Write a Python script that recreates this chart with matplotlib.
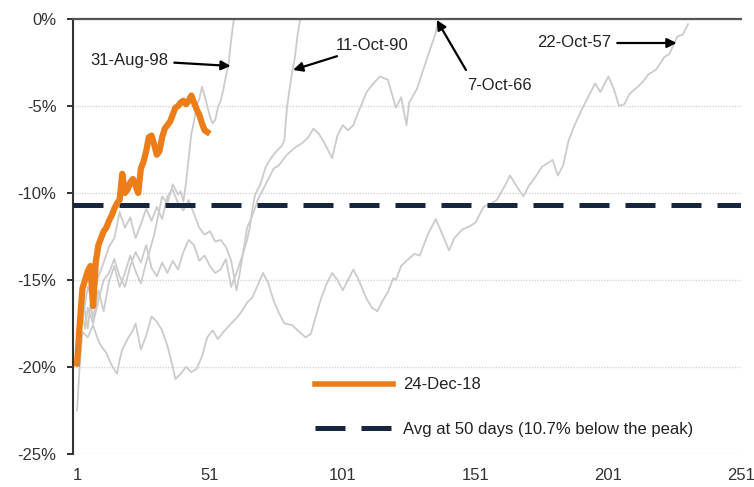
import matplotlib.pyplot as plt
from matplotlib.lines import Line2D

plt.rcParams['font.family'] = ['Liberation Sans', 'DejaVu Sans']
plt.rcParams['axes.unicode_minus'] = False

# trading days after the trough vs. distance below the prior peak (%)
days_2018 = list(range(1, 51))
dd_2018 = [-19.8, -17.5, -15.5, -15.0, -14.5, -14.2, -16.5, -14.0, -13.0, -12.6,
           -12.2, -12.0, -11.6, -11.3, -10.9, -10.6, -10.4, -8.9, -10.0, -9.8,
           -9.4, -9.2, -9.6, -10.0, -8.6, -8.2, -7.6, -6.8, -6.7, -7.2,
           -7.8, -7.6, -6.8, -6.3, -6.1, -5.9, -5.5, -5.1, -5.0, -4.8,
           -4.7, -4.9, -4.7, -4.4, -4.8, -5.2, -5.5, -6.0, -6.4, -6.5]

days_1998 = [1, 2, 3, 4, 5, 6, 7, 9, 11, 13, 15, 17, 19, 21, 23, 25, 27, 28, 30, 31,
             33, 35, 37, 38, 39, 40, 41, 42, 43, 44, 45, 46, 47, 48, 49, 50, 51, 52, 53, 54,
             55, 56, 57, 58, 59, 60]
dd_1998 = [-19.3, -17.2, -15.8, -16.9, -17.8, -16.4, -17.2, -15.6, -16.8, -15.1,
           -14.2, -15.4, -14.6, -13.6, -14.5, -15.2, -14.0, -13.5, -12.4, -11.7,
           -10.2, -10.6, -9.5, -9.8, -10.1, -9.9, -10.5, -9.4, -8.0, -6.6,
           -5.9, -5.0, -4.6, -3.9, -4.4, -5.0, -5.6, -6.0, -5.8, -5.1,
           -4.7, -4.1, -3.3, -2.6, -1.2, 0.0]

days_1990 = [1, 2, 3, 4, 5, 7, 9, 11, 13, 15, 17, 19, 21, 23, 25, 27, 29, 31, 33, 35,
             37, 39, 41, 43, 45, 47, 49, 51, 53, 55, 57, 59, 61, 63, 65, 66, 67, 68, 70, 72,
             74, 76, 78, 79, 80, 81, 82, 83, 84, 85]
dd_1990 = [-20.0, -18.2, -17.0, -17.8, -16.6, -17.5, -16.2, -15.0, -14.6, -13.8,
           -14.8, -15.4, -14.2, -13.4, -14.0, -13.0, -14.3, -14.8, -14.0, -14.6,
           -13.9, -14.4, -13.4, -12.7, -13.0, -13.9, -13.6, -14.2, -14.6, -14.4,
           -13.8, -15.4, -14.6, -13.7, -12.7, -12.0, -10.9, -10.1, -9.5, -8.5,
           -8.0, -7.6, -7.3, -7.0, -5.1, -4.0, -3.0, -2.2, -0.9, 0.0]

days_1966 = [1, 3, 5, 7, 9, 11, 13, 15, 17, 19, 21, 23, 25, 27, 29, 31, 33, 35, 37, 39,
             41, 43, 45, 47, 49, 51, 53, 55, 57, 59, 61, 62, 63, 65, 67, 69, 71, 73, 75, 77,
             80, 83, 86, 88, 90, 92, 94, 97, 99, 101, 103, 105, 107, 110, 112, 115, 118, 121,
             123, 125, 126, 129, 132, 134, 136, 137]
dd_1966 = [-18.5, -17.3, -15.4, -16.2, -14.8, -14.0, -13.1, -12.6, -11.1, -12.0,
           -11.4, -12.6, -11.8, -10.9, -11.6, -10.8, -11.5, -10.2, -9.8, -10.6,
           -11.0, -10.4, -11.2, -12.0, -12.4, -12.2, -12.8, -12.7, -13.1, -13.9,
           -15.6, -14.8, -13.9, -12.0, -11.3, -10.4, -9.8, -9.2, -8.6, -8.4,
           -7.8, -7.4, -7.1, -6.8, -6.3, -6.6, -7.1, -8.0, -6.7, -6.1,
           -6.4, -6.1, -5.3, -4.2, -3.8, -3.3, -3.5, -5.1,
           -4.5, -6.1, -4.8, -4.0, -2.6, -1.7, -0.8, 0.0]

days_1957 = [1, 2, 3, 5, 7, 9, 10, 12, 14, 16, 17, 18, 20, 22, 23, 25, 27, 29, 31, 33,
             35, 37, 38, 40, 42, 44, 46, 48, 50, 52, 54, 56, 59, 61, 63, 65, 67, 69, 71, 73,
             75, 77, 79, 82, 84, 87, 89, 91, 93, 95, 97, 99, 101, 103, 105, 107, 110, 112, 114, 116,
             118, 120, 121, 123, 125, 128, 130, 133, 136, 138, 141, 143, 146, 149, 151, 154, 157, 159, 162, 164,
             166, 169, 171, 173, 176, 178, 180, 182, 184, 186, 188, 191, 193, 196, 198, 201, 203, 205, 207, 209,
             212, 214, 216, 219, 222, 224, 227, 229, 231]
dd_1957 = [-22.5, -19.8, -18.0, -18.3, -17.6, -18.5, -18.8, -19.2, -19.9, -20.4,
           -19.6, -19.0, -18.4, -17.9, -17.5, -19.0, -18.2, -17.1, -17.4, -17.9,
           -18.8, -20.0, -20.7, -20.4, -20.0, -20.3, -20.1, -19.4, -18.3, -17.9,
           -18.4, -18.0, -17.5, -17.2, -16.8, -16.3, -16.0, -15.3, -14.6, -15.2,
           -16.2, -16.9, -17.5, -17.6, -17.9, -18.3, -18.1, -17.0, -16.0, -15.2,
           -14.6, -15.0, -15.6, -15.0, -14.4, -15.0, -16.1, -16.6, -16.8, -16.2,
           -15.7, -14.9, -15.0, -14.2, -13.9, -13.5, -13.6, -12.4, -11.5, -12.2,
           -13.3, -12.6, -12.1, -11.9, -11.7, -10.8, -10.6, -10.4, -9.6, -9.0,
           -9.5, -10.2, -9.6, -9.2, -8.5, -8.3, -8.1, -9.0, -8.4, -7.0,
           -6.2, -5.2, -4.6, -3.7, -4.2, -3.3, -4.0, -5.0, -4.9, -4.3,
           -3.9, -3.6, -3.2, -2.9, -2.2, -2.0, -1.0, -0.9, -0.3]

avg_50d = -10.7
x_ticks = [1, 51, 101, 151, 201, 251]
y_ticks = [0, -5, -10, -15, -20, -25]

ORANGE = '#ec7d18'
NAVY = '#17263f'
GREY = '#cbcbcb'

fig = plt.figure(figsize=(7.54, 4.87), dpi=100)
ax = fig.add_axes([0.097, 0.068, 0.886, 0.893])

for d, v in [(days_1957, dd_1957), (days_1966, dd_1966),
             (days_1990, dd_1990), (days_1998, dd_1998)]:
    ax.plot(d, v, color=GREY, lw=1.3, zorder=2)

ax.axhline(avg_50d, color=NAVY, lw=3.6, dashes=(6, 3.2), zorder=3)
ax.plot(days_2018, dd_2018, color=ORANGE, lw=4.5, solid_joinstyle='round', zorder=4)

ax.set_xlim(-0.5, 251)
ax.set_ylim(-25, 0)
ax.set_xticks(x_ticks)
ax.set_yticks(y_ticks)
ax.set_yticklabels(['%d%%' % t for t in y_ticks])
ax.tick_params(axis='x', length=0, pad=10, labelsize=12, colors='#333333')
ax.tick_params(axis='y', length=4, width=1.4, pad=8, labelsize=12, colors='#333333')
ax.yaxis.grid(True, color='#d6d6d6', lw=1, linestyle=(0, (1, 1)))
ax.set_axisbelow(True)

for side in ['right', 'bottom']:
    ax.spines[side].set_visible(False)
ax.spines['left'].set_color('#333333')
ax.spines['left'].set_linewidth(1.5)
ax.spines['top'].set_color('#555555')
ax.spines['top'].set_linewidth(1.6)

arrow = dict(arrowstyle='-|>', color='black', lw=1.6, mutation_scale=14,
             shrinkA=2, shrinkB=0)
ax.annotate('31-Aug-98', xy=(58.8, -2.7), xytext=(20.8, -2.36),
            ha='center', va='center', fontsize=12, color='#222222', arrowprops=arrow)
ax.annotate('11-Oct-90', xy=(82.3, -2.93), xytext=(112.2, -1.5),
            ha='center', va='center', fontsize=12, color='#222222', arrowprops=arrow)
ax.annotate('7-Oct-66', xy=(136.4, -0.06), xytext=(160, -3.8),
            ha='center', va='center', fontsize=12, color='#222222',
            arrowprops=dict(arrow, relpos=(0.05, 1.0), shrinkA=4))
ax.annotate('22-Oct-57', xy=(226.7, -1.38), xytext=(188.3, -1.38),
            ha='center', va='center', fontsize=12, color='#222222', arrowprops=arrow)

handles = [Line2D([], [], color=ORANGE, lw=4),
           Line2D([], [], color=NAVY, lw=3.6, dashes=(6, 3.2))]
ax.legend(handles, ['24-Dec-18', 'Avg at 50 days (10.7% below the peak)'],
          loc='upper left', bbox_to_anchor=(0.362, 0.176), frameon=False,
          fontsize=12, handlelength=4.7, handletextpad=0.6, labelspacing=1.76,
          borderpad=0, borderaxespad=0, labelcolor='#222222')

fig.savefig('out.png', dpi=100)
